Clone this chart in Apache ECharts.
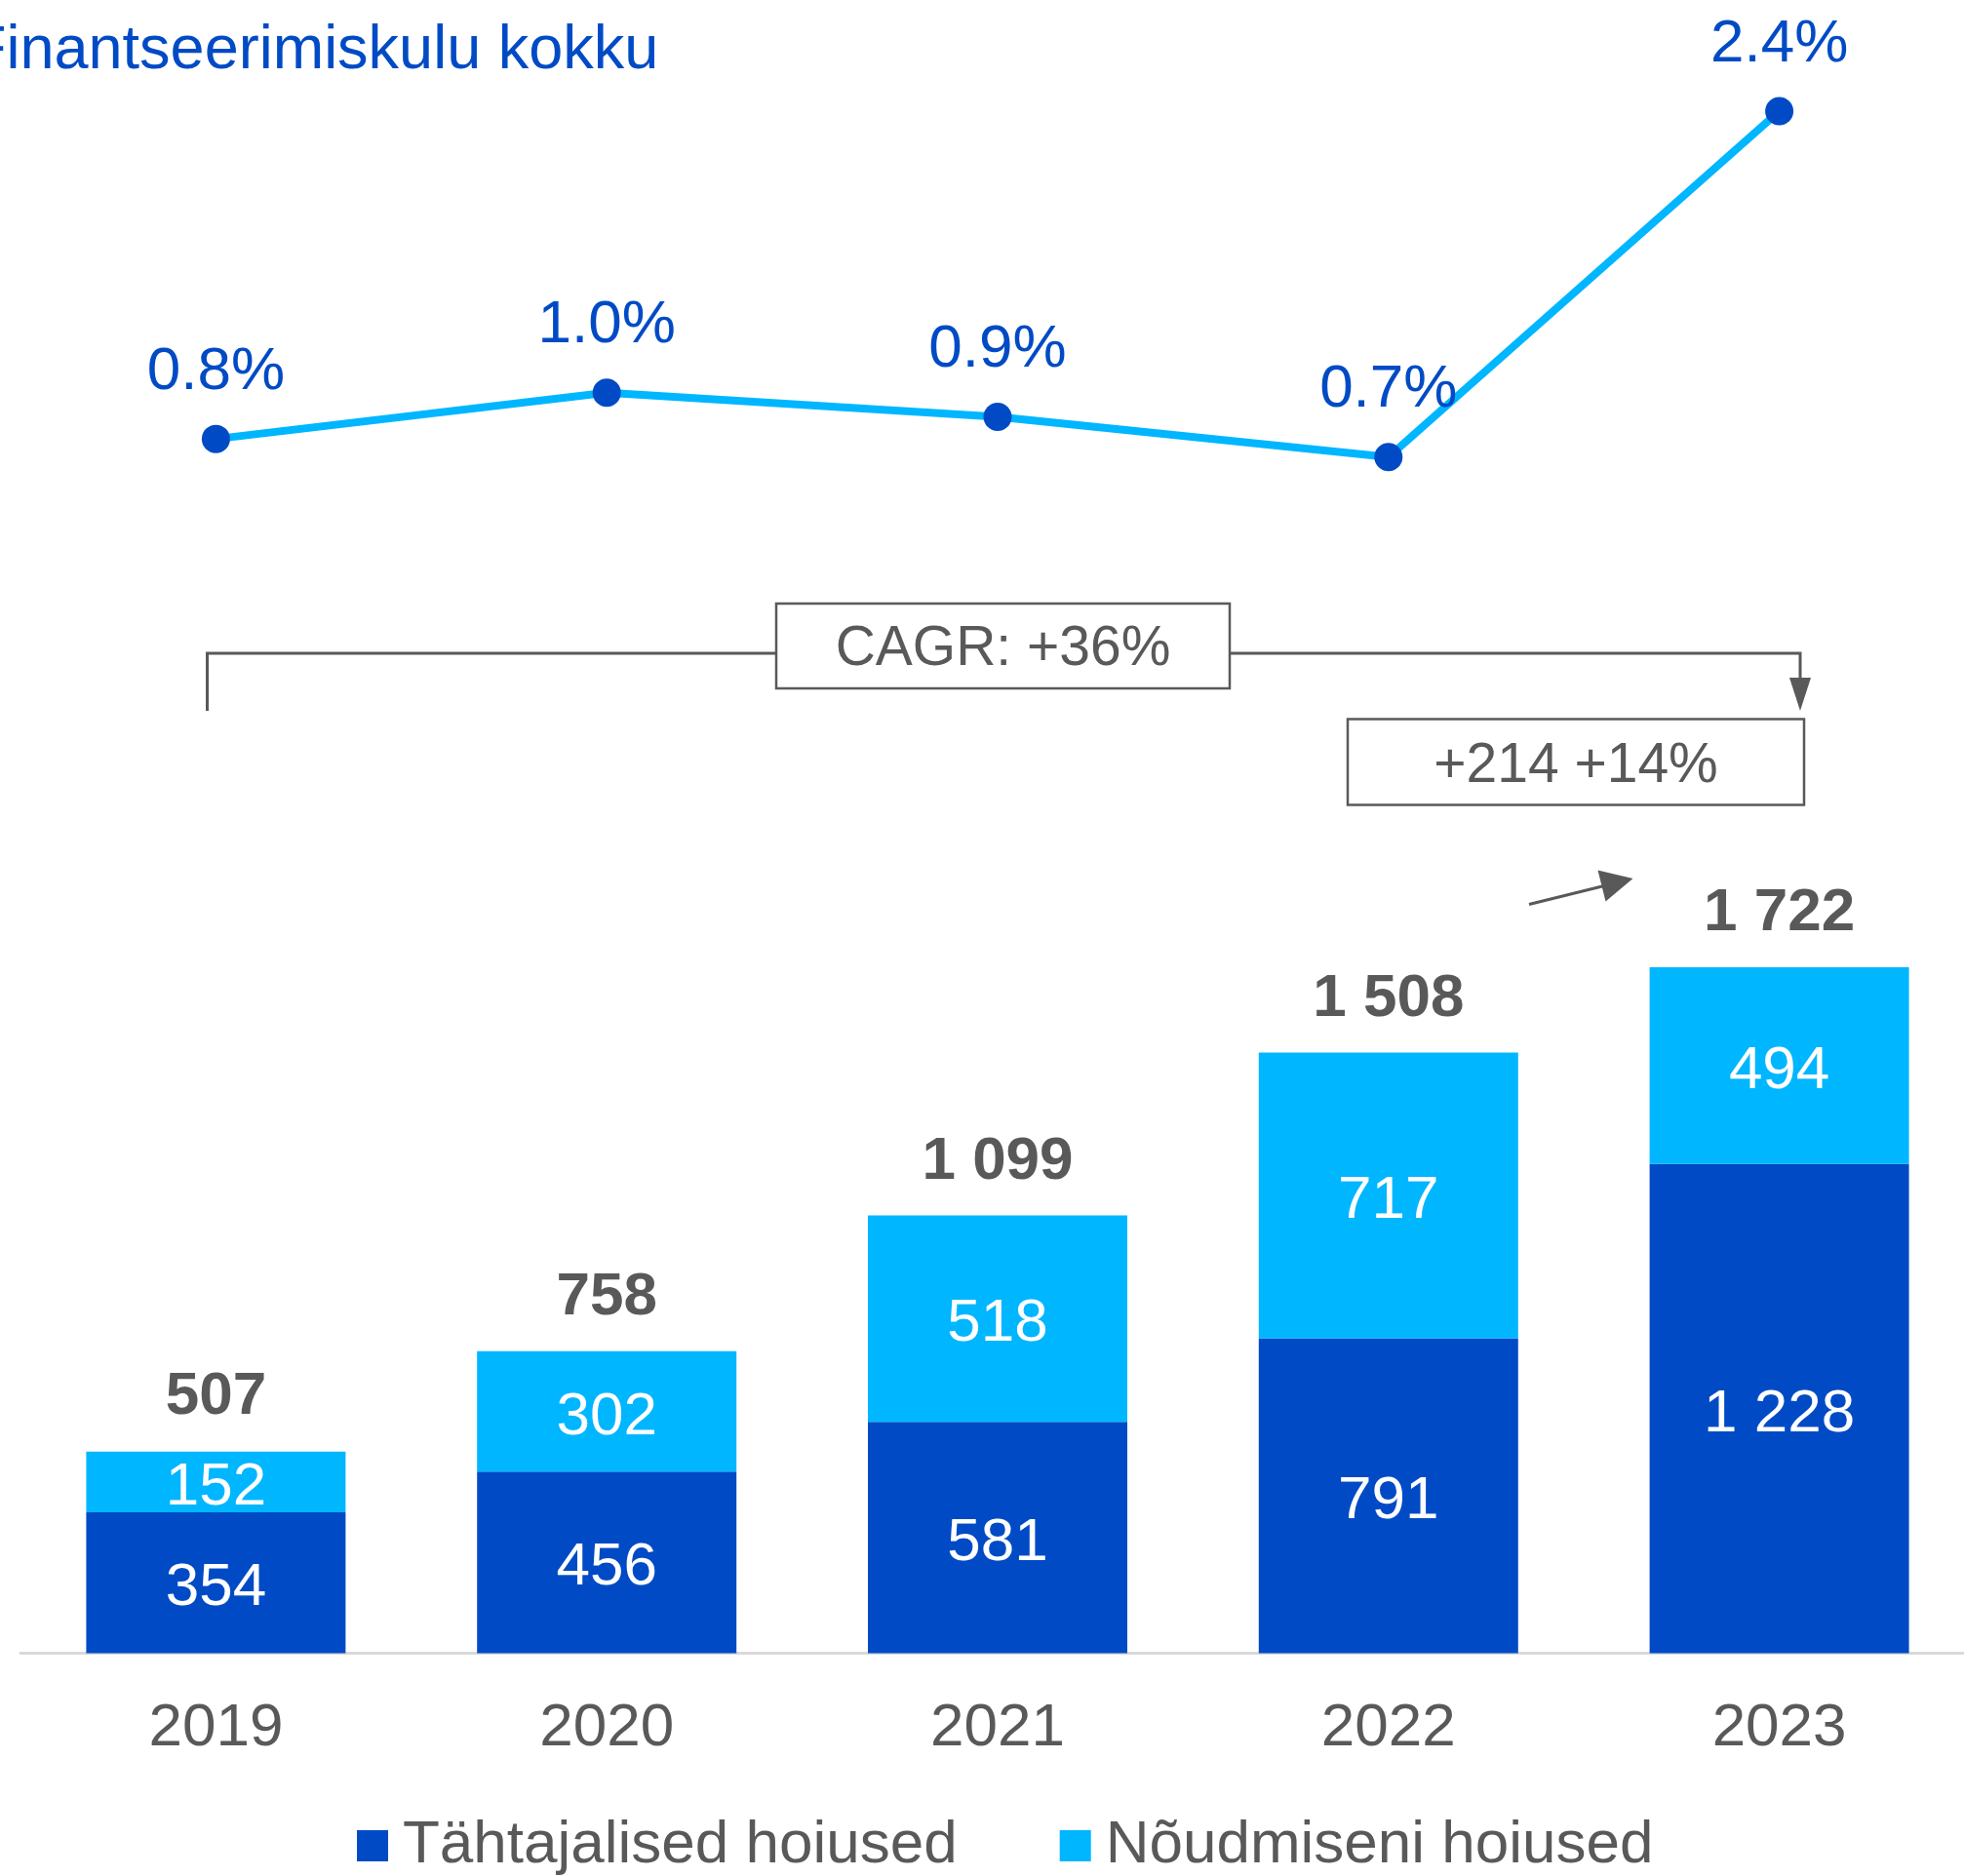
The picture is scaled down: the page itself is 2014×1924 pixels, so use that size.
<!DOCTYPE html>
<html>
<head>
<meta charset="utf-8">
<script src="https://cdn.jsdelivr.net/npm/echarts@6/dist/echarts.min.js"></script>
<style>
  html, body { margin: 0; padding: 0; background: #fff; }
  #main { width: 2014px; height: 1924px; }
</style>
</head>
<body>
<div id="main"></div>
<script>
// data
const years = ['2019', '2020', '2021', '2022', '2023']
const fixedDeposits = [354, 456, 581, 791, 1228]     // Tähtajalised hoiused
const demandDeposits = [152, 302, 518, 717, 494]     // Nõudmiseni hoiused
const totals = [507, 758, 1099, 1508, 1722]
const fundingCost = [0.77, 1.0, 0.88, 0.68, 2.4]     // Finantseerimiskulu kokku, %

const DARK = '#004BC5'
const LIGHT = '#00B6FF'
const GRAY = '#595959'
const FONT = '"Liberation Sans", Arial, sans-serif'

// 1 228 style numbers
const fmt = v => String(v).replace(/\B(?=(\d{3})+(?!\d))/g, ' ')

const myChart = echarts.init(document.getElementById('main'))

const option = {
  backgroundColor: '#fff',
  animation: false,
  textStyle: { fontFamily: FONT },
  legend: {
    left: 366,
    top: 1862,
    padding: 0,
    itemWidth: 32,
    itemHeight: 32,
    itemGap: 105,
    icon: 'rect',
    textStyle: { fontSize: 62, color: GRAY, fontFamily: FONT, padding: [0, 0, 0, 10] },
    data: ['Tähtajalised hoiused', 'Nõudmiseni hoiused']
  },
  grid: [
    { left: 21, width: 2004, top: 878.5, height: 817, outerBoundsMode: 'none' },
    { left: 21, width: 2004, top: 93.4, height: 515.5, outerBoundsMode: 'none' }
  ],
  xAxis: [
    {
      type: 'category',
      gridIndex: 0,
      data: years,
      axisLine: { lineStyle: { color: '#D9D9D9', width: 3 } },
      axisTick: { show: false },
      axisLabel: { fontSize: 62, color: GRAY, margin: 46, fontFamily: FONT }
    },
    {
      type: 'category',
      gridIndex: 1,
      data: years,
      show: false
    }
  ],
  yAxis: [
    { type: 'value', gridIndex: 0, min: 0, max: 2000, show: false },
    { type: 'value', gridIndex: 1, min: 0, max: 2.5, show: false }
  ],
  series: [
    {
      name: 'Tähtajalised hoiused',
      type: 'bar',
      stack: 'dep',
      barWidth: 266,
      data: fixedDeposits,
      itemStyle: { color: DARK },
      label: {
        show: true, position: 'inside', offset: [0, 6], color: '#fff', fontSize: 62, fontFamily: FONT,
        formatter: p => fmt(p.value)
      }
    },
    {
      name: 'Nõudmiseni hoiused',
      type: 'bar',
      stack: 'dep',
      barWidth: 266,
      data: demandDeposits,
      itemStyle: { color: LIGHT },
      label: {
        show: true, position: 'inside', offset: [0, 6], color: '#fff', fontSize: 62, fontFamily: FONT,
        formatter: p => fmt(p.value)
      }
    },
    {
      name: 'total',
      type: 'bar',
      barWidth: 266,
      barGap: '-100%',
      data: totals,
      z: 1,
      itemStyle: { color: 'rgba(0,0,0,0)' },
      label: {
        show: true, position: 'top', distance: 24, color: GRAY, fontSize: 62,
        fontWeight: 'bold', fontFamily: FONT,
        formatter: p => fmt(p.value)
      }
    },
    {
      name: 'Finantseerimiskulu kokku',
      type: 'line',
      xAxisIndex: 1,
      yAxisIndex: 1,
      data: fundingCost,
      symbol: 'circle',
      symbolSize: 29,
      lineStyle: { color: LIGHT, width: 8 },
      itemStyle: { color: DARK },
      label: {
        show: true, position: 'top', distance: 23, color: DARK, fontSize: 62, fontFamily: FONT,
        formatter: p => p.value.toFixed(1) + '%'
      },
      z: 3
    }
  ],
  graphic: [
    // title top-left, partly cut off
    {
      type: 'text', left: -32, top: 21,
      style: { text: 'Finantseerimiskulu kokku', fill: DARK, fontSize: 63, fontFamily: FONT }
    },
    // CAGR bracket
    {
      type: 'polyline',
      shape: { points: [[212.5, 729], [212.5, 670], [1846, 670], [1846, 700]] },
      style: { stroke: GRAY, lineWidth: 3, fill: null }
    },
    {
      type: 'polygon',
      shape: { points: [[1835, 695], [1857, 695], [1846, 729]] },
      style: { fill: GRAY }
    },
    {
      type: 'rect',
      shape: { x: 796, y: 619, width: 465, height: 87 },
      style: { fill: '#fff', stroke: GRAY, lineWidth: 2.5 }
    },
    {
      type: 'text', x: 1028.5, y: 666.5,
      style: { text: 'CAGR: +36%', fill: GRAY, fontSize: 57, fontFamily: FONT, align: 'center', verticalAlign: 'middle' }
    },
    // year-on-year box
    {
      type: 'rect',
      shape: { x: 1382, y: 737.5, width: 468, height: 88 },
      style: { fill: '#fff', stroke: GRAY, lineWidth: 2.5 }
    },
    {
      type: 'text', x: 1616, y: 786,
      style: { text: '+214 +14%', fill: GRAY, fontSize: 57, fontFamily: FONT, align: 'center', verticalAlign: 'middle' }
    },
    // small arrow towards 2023
    {
      type: 'line',
      shape: { x1: 1568, y1: 927.5, x2: 1645, y2: 908.5 },
      style: { stroke: GRAY, lineWidth: 3 }
    },
    {
      type: 'polygon',
      shape: { points: [[1674.5, 901], [1638.5, 892.5], [1646.5, 924.5]] },
      style: { fill: GRAY }
    }
  ]
}

myChart.setOption(option)
</script>
</body>
</html>
